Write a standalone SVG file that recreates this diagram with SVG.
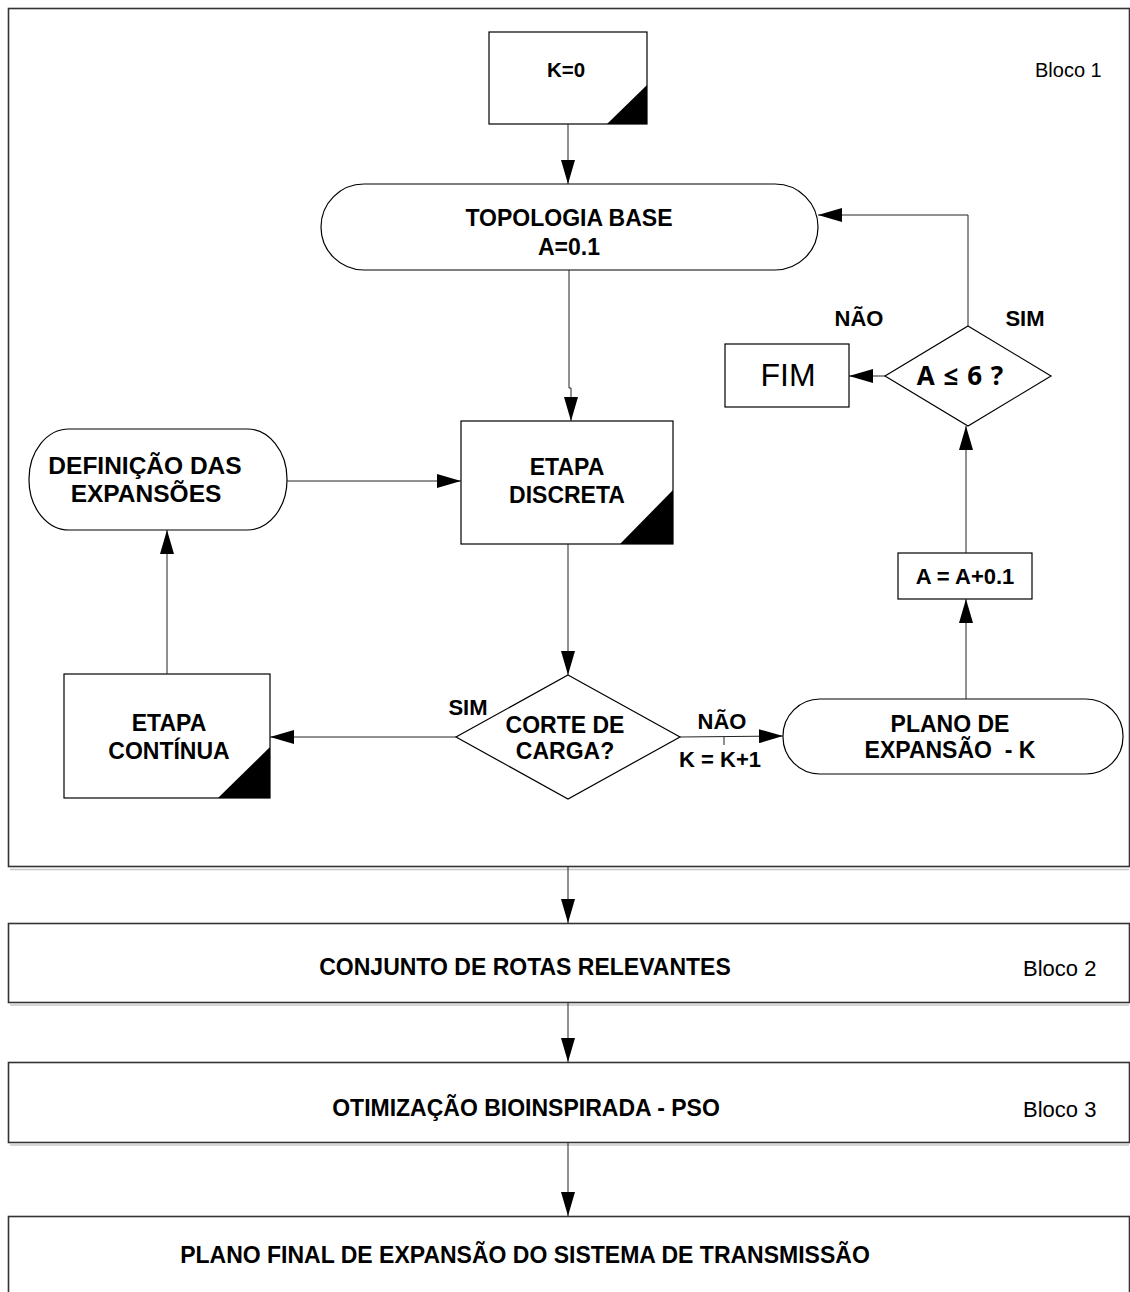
<svg xmlns="http://www.w3.org/2000/svg" width="1130" height="1292" viewBox="0 0 1130 1292">
<style>
.n{fill:#fff;stroke:#000;stroke-width:1.2}
.blk{fill:#fff;stroke:#333;stroke-width:1.6}
.sh{fill:none;stroke:#c8c8c8;stroke-width:1.5}
.tri{fill:#000;stroke:none}
.t{font-family:"Liberation Sans",Arial,sans-serif;font-weight:bold;font-size:23px;fill:#000;text-anchor:middle}
.r{font-family:"Liberation Sans",Arial,sans-serif;font-size:20px;fill:#000}
.c{fill:none;stroke:#222;stroke-width:1}
</style>
<defs>
<marker id="ah" markerUnits="userSpaceOnUse" markerWidth="24" markerHeight="14" refX="24" refY="7" orient="auto">
<path d="M0,0 L24,7 L0,14 z" fill="#000"/>
</marker>
</defs>
<rect width="1130" height="1292" fill="#fff"/>
<g id="bloco1">
<rect class="blk" x="8.5" y="8.5" width="1121" height="858"/>
<path class="sh" d="M10,869.5 H1129"/>
<text class="r" x="1035" y="77">Bloco 1</text>
</g>
<g id="bloco2">
<rect class="blk" x="8.5" y="923.5" width="1121" height="79"/>
<path class="sh" d="M10,1005 H1129"/>
<text class="t" x="525" y="975">CONJUNTO DE ROTAS RELEVANTES</text>
<text class="r" x="1023" y="976" style="font-size:22px">Bloco 2</text>
</g>
<g id="bloco3">
<rect class="blk" x="8.5" y="1062.5" width="1121" height="80"/>
<path class="sh" d="M10,1145 H1129"/>
<text class="t" x="526" y="1116">OTIMIZAÇÃO BIOINSPIRADA - PSO</text>
<text class="r" x="1023" y="1117" style="font-size:22px">Bloco 3</text>
</g>
<g id="final">
<rect class="blk" x="8.5" y="1216.5" width="1121" height="100"/>
<text class="t" x="525" y="1263">PLANO FINAL DE EXPANSÃO DO SISTEMA DE TRANSMISSÃO</text>
</g>
<g id="k0">
<rect class="n" x="489" y="32" width="158" height="92"/>
<polygon class="tri" points="607,124 647,124 647,85"/>
<text class="t" x="566" y="77" style="font-size:20.5px">K=0</text>
</g>
<g id="topologia">
<rect class="n" x="321" y="184" width="497" height="86" rx="43" ry="43"/>
<text class="t" x="569" y="226">TOPOLOGIA BASE</text>
<text class="t" x="569" y="255">A=0.1</text>
</g>
<g id="discreta">
<rect class="n" x="461" y="421" width="212" height="123"/>
<polygon class="tri" points="620,544 673,544 673,490"/>
<text class="t" x="567" y="475">ETAPA</text>
<text class="t" x="567" y="503">DISCRETA</text>
</g>
<g id="definicao">
<rect class="n" x="29" y="429" width="258" height="101" rx="40" ry="50"/>
<text class="t" x="145" y="474" style="font-size:24.5px">DEFINIÇÃO DAS</text>
<text class="t" x="146" y="502" style="font-size:24.5px">EXPANSÕES</text>
</g>
<g id="continua">
<rect class="n" x="64" y="674" width="206" height="124"/>
<polygon class="tri" points="218,798 270,798 270,747"/>
<text class="t" x="169" y="731">ETAPA</text>
<text class="t" x="169" y="759">CONTÍNUA</text>
</g>
<g id="corte">
<polygon class="n" points="568,675 680,737 568,799 456,737"/>
<text class="t" x="565" y="733">CORTE DE</text>
<text class="t" x="565" y="759">CARGA?</text>
</g>
<g id="plano">
<rect class="n" x="783" y="699" width="340" height="75" rx="37" ry="37"/>
<text class="t" x="950" y="732">PLANO DE</text>
<text class="t" x="950" y="758" xml:space="preserve">EXPANSÃO  - K</text>
</g>
<g id="incremento">
<rect class="n" x="898" y="553" width="134" height="46"/>
<text class="t" x="965" y="584" style="font-size:22px">A = A+0.1</text>
</g>
<g id="decisaoA">
<polygon class="n" points="968,326 1051,376 968,426 885,376"/>
<text class="t" x="960" y="385" style="font-family:'Noto Sans','Open Sans',sans-serif;font-size:26px;word-spacing:2px">A ≤ 6 ?</text>
</g>
<g id="fim">
<rect class="n" x="725" y="344" width="124" height="63"/>
<text class="t" x="788" y="386" style="font-weight:normal;font-size:32px">FIM</text>
</g>
<g id="connectors">
<path class="c" d="M568,124 V184" marker-end="url(#ah)"/>
<path class="c" d="M569,270 V388 H571 V421" marker-end="url(#ah)"/>
<path class="c" d="M568,544 V675" marker-end="url(#ah)"/>
<path class="c" d="M456,737 H270" marker-end="url(#ah)"/>
<path class="c" d="M167,674 V530" marker-end="url(#ah)"/>
<path class="c" d="M287,481 H461" marker-end="url(#ah)"/>
<path class="c" d="M680,737 L783,736" marker-end="url(#ah)"/>
<path class="c" d="M724,737 V745"/>
<path class="c" d="M966,699 V599" marker-end="url(#ah)"/>
<path class="c" d="M966,553 V426" marker-end="url(#ah)"/>
<path class="c" d="M885,376 H849" marker-end="url(#ah)"/>
<path class="c" d="M968,326 V215 H818" marker-end="url(#ah)"/>
<path class="c" d="M568,867 V923" marker-end="url(#ah)"/>
<path class="c" d="M568,1003 V1062" marker-end="url(#ah)"/>
<path class="c" d="M568,1143 V1216" marker-end="url(#ah)"/>
<text class="t" x="468" y="715" style="font-size:22px">SIM</text>
<text class="t" x="722" y="729" style="font-size:22px">NÃO</text>
<text class="t" x="720" y="767" style="font-size:22px">K = K+1</text>
<text class="t" x="859" y="326" style="font-size:22px">NÃO</text>
<text class="t" x="1025" y="326" style="font-size:22px">SIM</text>
</g>
</svg>
